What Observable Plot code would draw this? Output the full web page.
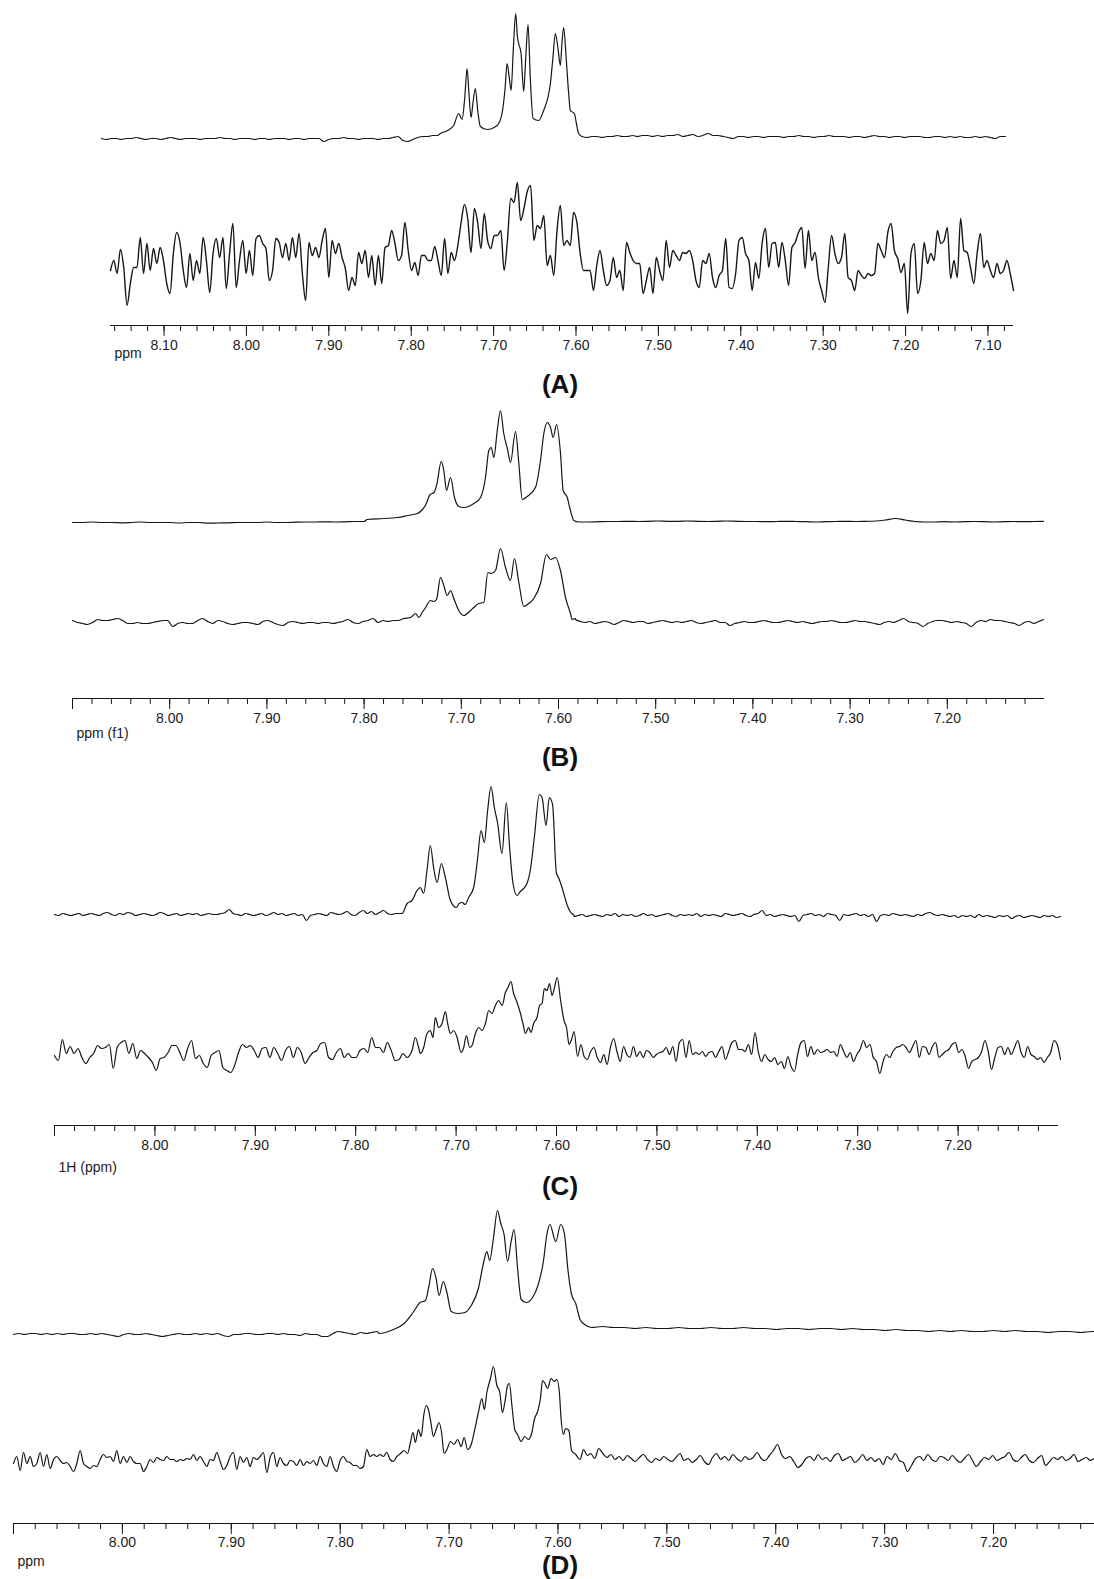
<!DOCTYPE html>
<html><head><meta charset="utf-8">
<script src="https://cdn.jsdelivr.net/npm/d3@7"></script>
<script src="https://cdn.jsdelivr.net/npm/@observablehq/plot@0.6"></script>
<style>
body{margin:0;background:#fff;}
#fig{position:relative;width:1094px;height:1579px;overflow:hidden;font-family:"Liberation Sans",Arial,sans-serif;background:#fff;}
#fig svg{position:absolute;left:0;}
.cap{position:absolute;left:460px;width:200px;text-align:center;font-weight:bold;font-size:26px;line-height:26px;color:#111;z-index:5;}
</style></head><body><div id="fig"></div>
<script>
// ---------- tick labels ----------
const aMajor = [8.10,8.00,7.90,7.80,7.70,7.60,7.50,7.40,7.30,7.20,7.10];
const bcdMajor = [8.00,7.90,7.80,7.70,7.60,7.50,7.40,7.30,7.20];
const bcdEndTick = [8.10];
const unitLabels = ["ppm","ppm (f1)","1H (ppm)","ppm"];
const panelNames = ["(A)","(B)","(C)","(D)"];

// ---------- Panel A (intensity, arbitrary units) ----------
const aTopL = [-1,-2,-1,-1,-2,-1,-1,0,-1,-2,-1,-1,-2,-1,0,-1,-2,-1,-1,-1,-2,-1,-1,-1,0,-1,-1,-2,-1,-1,-1,-2,-1,-1,-2,-1,-1,-1,-2,-1,-1,-2,-1,-1,-1,-4,-2,-1,-1,0,-1,-1,-2,-1,-1,-1,-2,-1,-1,0,1,-3,-4,-2,0,1,1,2,2];
const aTopPeak = [[7.7646,4],[7.7560,7],[7.7485,12],[7.7424,24],[7.7383,18],[7.7350,40],[7.7322,69],[7.7300,45],[7.7274,20],[7.7250,35],[7.7222,49],[7.7190,25],[7.7161,11],[7.7080,8],[7.6958,12],[7.6898,24],[7.6860,50],[7.6837,74],[7.6810,60],[7.6788,47],[7.6760,90],[7.6732,124],[7.6710,100],[7.6696,94],[7.6667,84],[7.6635,46],[7.6610,80],[7.6582,113],[7.6555,60],[7.6521,19],[7.6453,17],[7.6393,27],[7.6311,54],[7.6280,80],[7.6251,104],[7.6220,90],[7.6190,72],[7.6170,95],[7.6150,110],[7.6120,80],[7.6089,44],[7.6069,27],[7.6020,24],[7.5995,14],[7.5968,4],[7.5927,1]];
const aTopR = [1,0,1,1,0,1,1,2,1,1,2,1,2,2,1,2,1,2,2,3,1,2,3,1,2,4,2,2,1,0,-1,1,1,0,1,1,0,1,1,1,0,1,1,2,1,1,0,1,1,2,1,1,1,0,1,1,0,1,2,1,1,0,1,1,0,1,1,1,0,0,1,1,0,1,0,1,0,0,1,0,1,0,-1,1,1];
const aBot = [0,10,-3,21,3,-35,-13,3,3,33,-3,27,0,22,7,23,10,-13,-23,17,38,28,0,-17,17,-10,10,-3,33,10,-22,17,32,13,33,-18,17,47,-17,10,30,-3,20,-5,32,35,27,22,-10,0,32,28,13,27,10,33,13,37,-3,-30,28,15,23,13,30,42,-7,30,17,27,13,2,-20,-7,-15,18,7,20,-7,15,-15,15,-13,23,25,
40,27,10,15,48,20,0,8,-5,15,15,10,10,24,10,-5,32,-3,18,10,25,48,66,52,18,62,48,22,57,30,22,35,35,40,0,30,72,68,88,50,62,79,85,30,45,42,55,5,15,-5,40,65,25,30,25,58,48,17,0,0,0,-20,5,20,0,-15,-10,
13,-7,0,-20,28,18,10,7,7,-23,-10,3,-23,13,0,-10,30,3,20,15,10,18,17,20,10,-10,-17,10,7,17,-7,-17,-5,0,32,-17,-18,-3,30,33,17,10,-20,8,-8,27,42,3,27,28,3,28,10,-15,23,28,38,43,2,40,10,18,-7,-20,-32,3,35,17,7,13,37,-7,-10,-20,0,-5,-8,-3,-5,-3,27,20,13,38,47,20,12,-2,7,-43,17,27,-23,-10,28,7,17,10,40,27,30,43,-8,10,-7,52,20,18,3,-13,17,37,3,10,0,-7,7,-3,0,10,-3,-20];

// ---------- Panel B ----------
const bTopL = [0,0,0.5,0,0,-0.3,0,0.5,0,0,0,-0.5,0,0,-0.7,-0.5,-0.3,0,0,0,0.5,0,0,0.3,0.5,0.5,0.7,0.5,0.7,1,1];
const bTopPeak = [[7.797,3],[7.780,4],[7.766,5],[7.755,7],[7.745,9],[7.740,13],[7.737,17],[7.732,28],[7.728,30],[7.725,39],[7.7207,61],[7.718,52],[7.7152,32],[7.7111,45],[7.707,25],[7.7026,16],[7.6974,15],[7.6871,19],[7.6802,25],[7.6751,45],[7.6717,72],[7.6692,75],[7.6665,65],[7.663,92],[7.6597,112],[7.6563,89],[7.6522,72],[7.6494,60],[7.6442,91],[7.6408,59],[7.6373,23],[7.6322,26],[7.6237,35],[7.6185,62],[7.6151,89],[7.6116,100],[7.6082,95],[7.6055,85],[7.602,98],[7.598,70],[7.5952,32],[7.591,25],[7.5877,12],[7.5842,2],[7.579,0.5]];
const bTopR = [0.5,0.5,0.8,1,1,1.2,1,1.2,1.5,1.2,1.2,1.5,1.2,1,1.2,1.5,1.2,1,1,0.8,1,1.2,1,0.8,0.5,0.8,1,1.2,1,1.2,1.5,2.5,4,2.5,1,0.5,0.5,0.8,0.5,0.8,1,0.8,0.5,0.8,1,0.8,1,1.2];
const bBotL = [2,0,-1,-2,0,3,2,2,3,4,2,-1,-1,0,-1,-1,0,1,2,2,-4,-1,0,-1,-1,2,4,1,-1,2,1,-1,-2,-1,0,0,-1,-2,1,2,0,-2,-3,0,1,0,-1,0,0,-1,0,0,-1,0,1,3,0,-1,1,2,4,0,2,1,2,2];
const bBotPeak = [[7.7592,4],[7.7523,5],[7.7471,9],[7.7437,5],[7.7402,10],[7.7368,15],[7.7317,22],[7.7283,21],[7.7255,23],[7.7214,45],[7.718,37],[7.7145,27],[7.7111,32],[7.7077,24],[7.7026,12],[7.6974,7],[7.6905,12],[7.6871,15],[7.682,19],[7.6768,20],[7.6727,50],[7.6692,49],[7.6648,52],[7.6597,74],[7.6545,55],[7.6494,42],[7.6453,64],[7.6408,40],[7.6357,16],[7.6306,19],[7.6254,24],[7.6185,39],[7.6124,68],[7.6082,63],[7.6031,65],[7.598,52],[7.5928,25],[7.5877,9],[7.586,3],[7.5825,4]];
const bBotR = [3,1,0,1,-1,0,1,0,-2,0,2,1,0,1,1,-1,0,1,2,1,0,1,0,1,2,0,-1,0,1,2,0,0,-3,-1,0,1,0,0,1,2,1,0,0,1,2,1,0,1,0,-1,0,1,1,2,1,0,0,1,2,1,1,0,-1,-2,0,1,0,2,4,1,0,-1,-4,-1,1,2,2,1,0,1,0,-1,-4,0,2,1,3,2,2,1,0,-1,-3,0,1,-1,1,3];

// ---------- Panel C ----------
const cTopL = [0,-1,1,0,-1,0,1,-1,0,1,0,-1,1,2,0,-1,1,0,2,1,-1,0,1,0,-1,0,2,1,-1,0,1,-1,0,1,0,1,-1,0,1,0,0,1,2,5,1,0,-1,1,0,-1,0,1,-1,0,2,0,1,-1,0,1,-1,0,-6,-1,0,1,0,-1,2,1,0,1,3,0,-1,2,4,1,3,0,2,4,1,0,1,1];
const cTopPeak = [[7.7538,1],[7.7488,11],[7.7439,14],[7.7389,24],[7.7356,27],[7.7323,21],[7.729,44],[7.7257,69],[7.7224,47],[7.719,32],[7.7147,51],[7.7107,37],[7.7057,14],[7.6998,7],[7.697,11],[7.6941,12],[7.6910,10],[7.6875,17],[7.6825,27],[7.6786,56],[7.6752,84],[7.6719,72],[7.6686,104],[7.6652,128],[7.6619,107],[7.6586,91],[7.6543,61],[7.65,112],[7.6467,67],[7.6433,31],[7.6393,19],[7.6360,23],[7.6327,26],[7.6290,32],[7.6261,44],[7.6221,77],[7.6171,120],[7.6144,117],[7.6104,89],[7.6072,117],[7.6039,110],[7.6002,42],[7.5976,36],[7.5942,26],[7.5892,9],[7.5859,2],[7.5825,-1]];
const cTopR = [-2,-1,0,-2,-1,0,-1,-2,0,-1,1,-2,0,-1,0,-2,-1,1,-1,0,-2,-1,0,1,-1,-2,0,-1,0,-1,1,-2,0,-1,0,-1,-2,1,0,-1,0,1,-1,-2,0,1,4,-1,0,-2,-1,0,-1,-2,-1,-7,-1,0,1,-1,0,-2,1,0,-1,-6,0,-1,0,1,-1,0,-2,0,-7,-1,0,-1,1,0,-1,0,-1,-2,0,-1,1,2,0,-1,0,-1,-2,-1,-3,-1,-2,-1,-3,0,-2,-1,-2,-3,-1,-2,-1,-4,-2,-1,-3,-2,-1,-2,-3,-1,-2,-1,-3,-2];
const cBotL = [2,-3,18,4,11,4,9,0,-6,0,4,12,9,10,13,-11,10,15,17,4,14,-1,7,4,0,-5,-13,-1,0,5,12,12,5,-3,9,17,-1,2,-6,-10,2,5,7,-10,-13,-15,-8,5,13,10,12,7,0,9,10,0,10,4,-3,7,11,0,10,5,-6,0,5,7,14,15,0,-2,5,9,0,4,0,0,7,9,5,20,10,10,5,15,7,-3,-2,4,0];
const cBotPeak = [[7.7439,7],[7.7406,20],[7.7373,10],[7.7356,4],[7.7323,10],[7.729,24],[7.7257,27],[7.723,20],[7.7207,40],[7.7174,30],[7.714,34],[7.7107,46],[7.7084,34],[7.7057,24],[7.7024,27],[7.699,20],[7.695,5],[7.6924,10],[7.6898,22],[7.6865,10],[7.6841,12],[7.6808,24],[7.6775,30],[7.6741,27],[7.6708,34],[7.6675,47],[7.6642,44],[7.6609,52],[7.6575,57],[7.6542,52],[7.6509,65],[7.6483,70],[7.6453,76],[7.6427,64],[7.64,57],[7.6367,47],[7.6334,34],[7.631,24],[7.6277,30],[7.6254,25],[7.6228,34],[7.6194,40],[7.6168,52],[7.6144,54],[7.6121,69],[7.6095,67],[7.6069,74],[7.6045,62],[7.602,70],[7.5993,80],[7.5959,57],[7.5925,37],[7.5900,30],[7.5875,13],[7.5850,18],[7.5825,26],[7.579,1],[7.5757,13]];
const cBotR = [1,-2,6,10,0,-5,3,-7,10,19,6,-4,11,3,0,11,1,6,0,7,5,0,3,5,6,10,3,11,-4,15,18,0,17,3,5,3,6,1,5,6,0,6,11,-2,6,15,17,8,8,6,13,3,25,6,-4,3,-2,-4,0,-7,-4,-11,1,-9,-14,3,15,17,1,11,3,8,5,6,8,5,6,1,13,6,0,5,-4,3,8,17,10,13,0,-4,-16,-4,3,0,6,10,11,13,10,5,11,17,0,11,10,3,11,15,0,3,6,8,13,15,5,8,1,-11,-4,-2,0,6,17,6,-12,0,10,11,3,10,3,10,17,5,0,11,3,1,-2,0,-5,0,5,17,13,-2];

// ---------- Panel D ----------
const dTopL = [0,1,0,1,1,0,1,0,1,0,1,1,0,0,1,0,1,0,-1,-2,0,1,0,0,1,0,-1,-2,-1,0,1,0,0,1,0,1,0,1,-1,-2,0,0,1,1,0,0,1,1,0,1,0,0,-1,1,0,0,-2,-2,1,3,2,1,0,2,1,2,3];
const dTopPeak = [[7.7643,1],[7.7511,5],[7.7413,11],[7.7331,22],[7.7266,32],[7.7217,34],[7.7184,49],[7.7152,66],[7.7119,56],[7.7092,39],[7.7053,53],[7.702,42],[7.6981,23],[7.6922,21],[7.6856,22],[7.6791,30],[7.6731,46],[7.6685,71],[7.6653,83],[7.6627,74],[7.6593,96],[7.6555,124],[7.6528,112],[7.6495,100],[7.6463,73],[7.643,93],[7.6403,105],[7.6371,66],[7.6338,35],[7.6292,32],[7.6233,37],[7.6184,49],[7.6134,73],[7.6102,100],[7.6075,110],[7.602,93],[7.5975,110],[7.594,100],[7.5907,63],[7.5875,40],[7.5837,31],[7.5797,15],[7.5755,10],[7.5691,7]];
const dTopR = [7,8,7,7,6,7,6,6,7,6,6,7,6,6,7,6,6,5,6,6,5,6,6,5,6,5,5,4,5,4,4,3,4,3,4,3,3,4,3,4,3,3,2,3,3,2,3,3];
const dBotL = [-1,6,-8,10,-1,6,-4,-1,10,-4,8,-6,3,6,2,-1,0,-4,-9,-1,12,-1,-4,-6,-3,-4,3,8,5,6,1,12,-1,6,0,6,1,-1,-1,-9,-4,3,0,5,3,2,6,3,3,1,3,2,4,3,8,2,6,1,-4,3,2,10,1,-7,-3,6,10,-7,6,0,5,-4,5,3,6,10,-10,5,10,-4,5,-1,-3,2,1,-3,3,-3,1,-1,2,-3,6,-1,-4,6,-4,-9,2,6,1,0,-3,-3,-6,-4,13,6,8,6,8,6,10,3,1];
const dBotPeak = [[7.748,6],[7.7446,9],[7.7413,12],[7.7381,9],[7.7355,20],[7.7332,30],[7.7309,20],[7.7282,33],[7.7256,26],[7.7233,47],[7.721,57],[7.719,53],[7.7167,40],[7.7144,26],[7.7119,33],[7.7092,40],[7.7069,30],[7.7046,9],[7.702,13],[7.6987,21],[7.6954,18],[7.6922,23],[7.6889,16],[7.6862,25],[7.683,13],[7.6797,18],[7.6764,33],[7.6731,50],[7.6699,64],[7.6676,53],[7.6653,70],[7.662,84],[7.6593,96],[7.6561,77],[7.6534,70],[7.6511,50],[7.6488,60],[7.6463,77],[7.6446,79],[7.6423,57],[7.6397,33],[7.6371,28],[7.6338,21],[7.6305,26],[7.6272,23],[7.624,30],[7.6217,43],[7.6184,52],[7.6161,64],[7.6142,82],[7.6119,79],[7.6096,74],[7.6063,84],[7.6036,81],[7.601,83],[7.5987,70],[7.5973,46],[7.595,28],[7.593,34],[7.590,32],[7.5875,12],[7.5837,8],[7.5797,3],[7.5765,13],[7.573,7]];
const dBotR = [9,4,14,9,5,8,3,6,2,7,4,1,5,8,3,0,4,2,6,3,1,5,9,2,4,0,3,7,1,-2,5,9,3,6,2,8,4,1,6,3,5,10,4,2,7,12,18,8,4,6,1,-5,-2,4,6,2,8,3,5,1,7,9,2,4,6,0,3,8,2,5,1,4,-2,6,3,9,2,0,-9,-3,4,6,2,8,3,1,6,5,2,7,3,0,4,8,2,-4,1,5,3,7,2,4,6,10,3,1,5,8,2,0,4,7,-3,1,5,3,6,2,4,8,1,3,5,2,4,6,3];

// ---------- helpers ----------
const uni = (p0, p1, vals) => vals.map((v, i) => ({ppm: p0 + (p1 - p0) * i / (vals.length - 1), v}));
const pk = pairs => pairs.map(([ppm, v]) => ({ppm, v}));
const trace = (...parts) => parts.flat().sort((a, b) => b.ppm - a.ppm);
const minorBCD = d3.range(712, 810, 2).map(d => d / 100);
const minorA = d3.range(708, 818, 2).map(d => d / 100);

const panels = [
  {top: 0, height: 372, axisY: 325, xL: 110, xR: 1013, domain: [8.165, 7.069], topBase: 137, botBase: 270,
   upper: trace(uni(8.176, 7.768, aTopL), pk(aTopPeak), uni(7.5927, 7.0788, aTopR)),
   lower: trace(uni(8.165, 7.069, aBot)), botW: 1.4, pad: 4,
   majors: aMajor, endTick: [], minors: minorA, unitDy: 32, capY: 384},
  {top: 390, height: 362, axisY: 698, xL: 72, xR: 1044, domain: [8.10, 7.10], topBase: 522, botBase: 622,
   upper: trace(uni(8.10, 7.80, bTopL), pk(bTopPeak), uni(7.579, 7.101, bTopR)),
   lower: trace(uni(8.10, 7.765, bBotL), pk(bBotPeak), uni(7.5825, 7.101, bBotR)), botW: 1.2, pad: 4,
   majors: bcdMajor, endTick: bcdEndTick, minors: minorBCD, unitDy: 39, capY: 757},
  {top: 770, height: 410, axisY: 1125, xL: 54, xR: 1058, domain: [8.10, 7.10], topBase: 914, botBase: 1057,
   upper: trace(uni(8.10, 7.756, cTopL), pk(cTopPeak), uni(7.5825, 7.098, cTopR)),
   lower: trace(uni(8.10, 7.749, cBotL), pk(cBotPeak), uni(7.5725, 7.098, cBotR)), botW: 1.2, pad: 4,
   majors: bcdMajor, endTick: bcdEndTick, minors: minorBCD, unitDy: 46, capY: 1186},
  {top: 1190, height: 389, axisY: 1523, xL: 13, xR: 1094, domain: [8.10, 7.1073], topBase: 1334, botBase: 1462,
   upper: trace(uni(8.10, 7.766, dTopL), pk(dTopPeak), uni(7.5691, 7.10, dTopR)),
   lower: trace(uni(8.10, 7.7511, dBotL), pk(dBotPeak), uni(7.570, 7.10, dBotR)), botW: 1.2, pad: 3,
   majors: bcdMajor, endTick: bcdEndTick, minors: minorBCD, unitDy: 42, capY: 1565}
];

const fig = document.getElementById("fig");
const ink = "#161616";
panels.forEach((p, k) => {
  const frameH = p.axisY - p.top;
  const lo = p.botBase - p.axisY, hi = p.botBase - p.top;
  const off = p.botBase - p.topBase;
  const chart = Plot.plot({
    width: 1094, height: p.height,
    marginTop: 0, marginBottom: p.height - frameH,
    marginLeft: p.xL, marginRight: 1094 - p.xR,
    style: {background: "none", overflow: "visible", fontFamily: "Liberation Sans, Arial, sans-serif", fontSize: "14px", color: ink},
    x: {domain: p.domain, axis: null},
    y: {domain: [lo, hi], axis: null},
    marks: [
      Plot.line(p.upper, {x: "ppm", y: d => d.v + off, stroke: ink, strokeWidth: 1.2, curve: "monotone-x"}),
      Plot.line(p.lower, {x: "ppm", y: "v", stroke: ink, strokeWidth: p.botW, curve: "monotone-x"}),
      Plot.ruleY([lo], {stroke: ink, strokeWidth: 1.2}),
      Plot.axisX({ticks: p.minors, tickSize: 6, tickFormat: () => "", label: null, stroke: ink}),
      Plot.axisX({ticks: p.majors, tickSize: 11, tickPadding: p.pad, tickFormat: d => d.toFixed(2), label: null, fontSize: 14, stroke: ink, fill: "#222"}),
      Plot.axisX({ticks: p.endTick, tickSize: 11, tickFormat: () => "", label: null, stroke: ink}),
      Plot.text([unitLabels[k]], {frameAnchor: "bottom-left", dx: 4, dy: p.unitDy, textAnchor: "start", fontSize: 14, fill: "#222"})
    ]
  });
  chart.style.top = p.top + "px";
  fig.appendChild(chart);
  const cap = document.createElement("div");
  cap.className = "cap";
  cap.textContent = panelNames[k];
  cap.style.top = (p.capY - 13) + "px";
  fig.appendChild(cap);
});
</script></body></html>
